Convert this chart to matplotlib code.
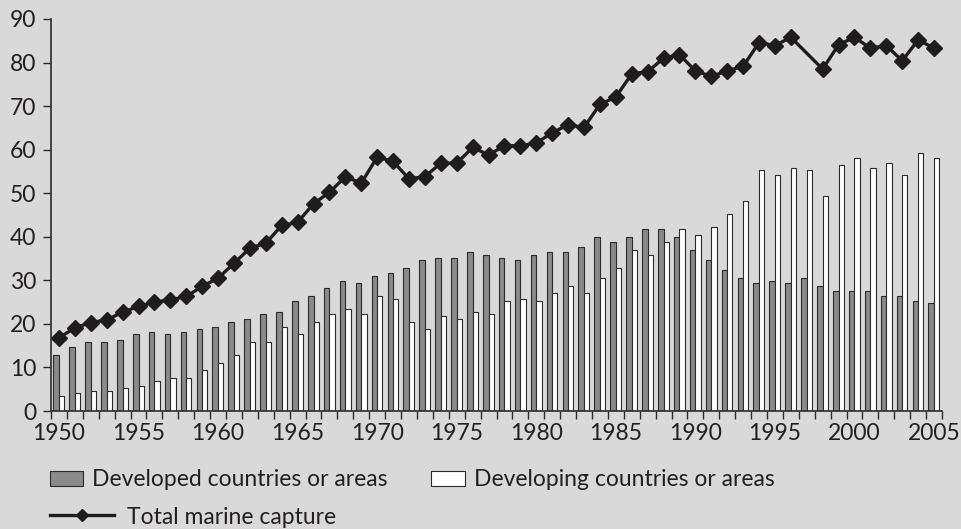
import matplotlib

matplotlib.use("Agg")
import matplotlib.pyplot as plt
import numpy as np
from matplotlib.lines import Line2D
from matplotlib.patches import Patch

# marine capture (million tonnes)
years = list(range(1950, 2006))

developed = [
    12.9, 14.6, 15.9, 15.9, 16.4, 17.6, 18.1, 17.6, 18.1, 18.8,
    19.3, 20.5, 21.1, 22.3, 22.8, 25.2, 26.4, 28.2, 29.9, 29.3,
    31.1, 31.7, 32.9, 34.6, 35.2, 35.2, 36.4, 35.8, 35.2, 34.6,
    35.8, 36.4, 36.4, 37.6, 40.0, 38.7, 40.0, 41.7, 41.7, 40.0,
    37.0, 34.6, 32.3, 30.6, 29.3, 29.9, 29.3, 30.6, 28.8, 27.6,
    27.6, 27.6, 26.4, 26.4, 25.2, 24.7,
]

developing = [
    3.4, 4.1, 4.7, 4.7, 5.2, 5.8, 7.0, 7.6, 7.6, 9.3,
    11.1, 12.9, 15.9, 15.9, 19.3, 17.6, 20.5, 22.3, 23.4, 22.3,
    26.4, 25.8, 20.5, 18.8, 21.7, 21.1, 22.8, 22.3, 25.3, 25.8,
    25.3, 27.0, 28.8, 27.0, 30.6, 32.9, 37.0, 35.8, 38.7, 41.7,
    40.5, 42.3, 45.3, 48.2, 55.3, 54.1, 55.8, 55.3, 49.4, 56.4,
    58.2, 55.8, 57.0, 54.1, 59.3, 58.2,
]

# no point plotted for 1997 in the source figure
total = [
    16.8, 19.1, 20.3, 20.9, 22.7, 24.0, 25.0, 25.5, 26.3, 28.6,
    30.5, 33.9, 37.4, 38.5, 42.6, 43.3, 47.6, 50.2, 53.8, 52.3,
    58.3, 57.3, 53.3, 53.8, 56.9, 56.9, 60.5, 58.8, 60.9, 60.9,
    61.5, 63.9, 65.7, 65.1, 70.4, 72.1, 77.4, 77.9, 81.0, 81.8,
    78.1, 76.8, 78.1, 79.1, 84.6, 83.9, 85.8, None, 78.5, 84.1,
    85.8, 83.3, 83.9, 80.4, 85.2, 83.3,
]

label_years = list(range(1950, 2006, 5))

BG = "#d9d9d9"
DEV_COLOR = "#8a8a8a"
EDGE = "#2b2b2b"
LINE_COLOR = "#1e1c1d"
TEXT = "#231f20"
FONT = ["Lato", "DejaVu Sans"]
FS = 16.5

plt.rcParams["font.family"] = FONT
plt.rcParams["text.color"] = TEXT

fig = plt.figure(figsize=(9.61, 5.29), dpi=100, facecolor=BG)
ax = fig.add_axes([51 / 961, 1 - 411 / 529, 891 / 961, 392 / 529])
ax.set_facecolor(BG)

x = np.arange(len(years))
ax.bar(x - 0.175, developed, width=0.35, color=DEV_COLOR, edgecolor=EDGE, linewidth=0.8)
ax.bar(x + 0.165, developing, width=0.33, color="white", edgecolor=EDGE, linewidth=0.8)

tx = [i for i, v in enumerate(total) if v is not None]
ty = [v for v in total if v is not None]
ax.plot(tx, ty, color=LINE_COLOR, lw=2.4, marker="D", ms=8,
        markerfacecolor=LINE_COLOR, markeredgecolor=LINE_COLOR)

ax.set_xlim(-0.5, len(years) - 0.5)
ax.set_ylim(0, 90)
ax.set_yticks(range(0, 91, 10))

ax.set_xticks([years.index(y) for y in label_years])
ax.set_xticklabels([str(y) for y in label_years])
ax.set_xticks(np.arange(-0.5, len(years)), minor=True)
ax.tick_params(axis="x", which="major", length=0, pad=9, labelsize=FS, labelcolor=TEXT)
ax.tick_params(axis="x", which="minor", length=5.5, width=1, color=EDGE, direction="out")
ax.tick_params(axis="y", length=5.5, width=1, color=EDGE, pad=5, labelsize=FS, labelcolor=TEXT)

for s in ("top", "right"):
    ax.spines[s].set_visible(False)
for s in ("left", "bottom"):
    ax.spines[s].set_color(EDGE)
    ax.spines[s].set_linewidth(1.2)

# legend: bars on the first row, line on the second
bar_handles = [
    Patch(facecolor=DEV_COLOR, edgecolor=EDGE, linewidth=0.8),
    Patch(facecolor="white", edgecolor=EDGE, linewidth=0.8),
]
leg1 = fig.legend(
    bar_handles,
    ["Developed countries or areas", "Developing countries or areas"],
    ncol=2, loc="center left", bbox_to_anchor=(50 / 961, 1 - 480 / 529),
    frameon=False, fontsize=FS, borderpad=0, borderaxespad=0,
    handlelength=1.45, handleheight=0.66, handletextpad=0.4, columnspacing=1.9,
)
line_handle = Line2D([], [], color=LINE_COLOR, lw=2.4, marker="D", ms=6.5)
leg2 = fig.legend(
    [line_handle], ["Total marine capture"],
    loc="center left", bbox_to_anchor=(50 / 961, 1 - 517 / 529),
    frameon=False, fontsize=FS, borderpad=0, borderaxespad=0,
    handlelength=2.8, handletextpad=0.55,
)

fig.savefig("out.png", dpi=100, facecolor=BG)
